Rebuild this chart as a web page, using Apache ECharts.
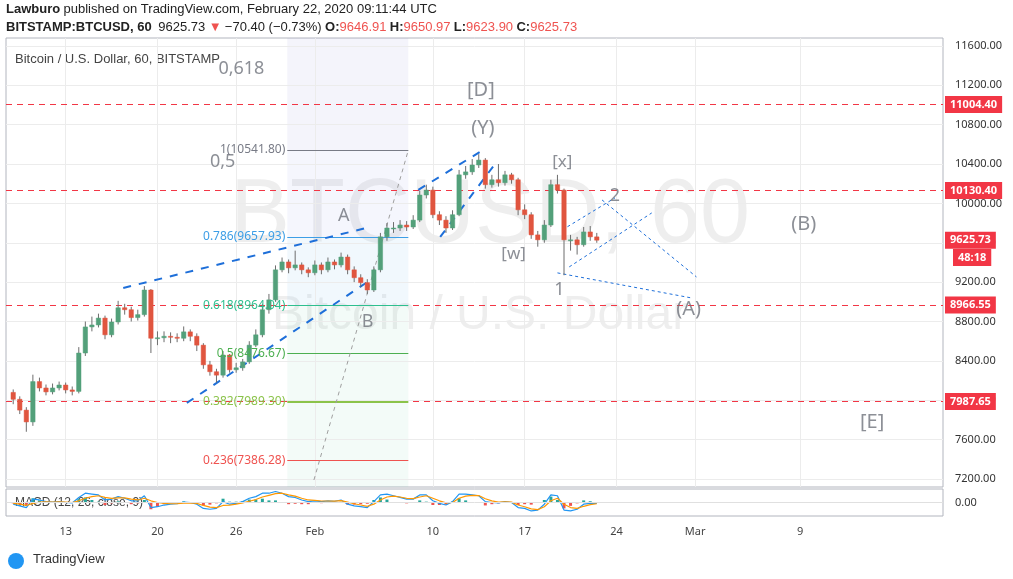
<!DOCTYPE html>
<html><head><meta charset="utf-8">
<script src="https://cdn.jsdelivr.net/npm/echarts@6/dist/echarts.min.js"></script>
<style>html,body{margin:0;padding:0;background:#fff}#c{width:1013px;height:579px}</style>
</head><body><div id="c"></div>
<script>
// time in days since Dec 31 2019 (Jan 13 = 13, Feb 1 = 32, Mar 1 = 61)
const times = [9,9.5,10,10.5,11,11.5,12,12.5,13,13.5,14,14.5,15,15.5,16,16.5,17,17.5,18,18.5,19,19.5,20,20.5,21,21.5,22,22.5,23,23.5,24,24.5,25,25.5,26,26.5,27,27.5,28,28.5,29,29.5,30,30.5,31,31.5,32,32.5,33,33.5,34,34.5,35,35.5,36,36.5,37,37.5,38,38.5,39,39.5,40,40.5,41,41.5,42,42.5,43,43.5,44,44.5,45,45.5,46,46.5,47,47.5,48,48.5,49,49.5,50,50.5,51,51.5,52,52.5,53,53.5];
const opens = [8080,8010,7900,7780,8190,8125,8085,8125,8155,8105,8090,8480,8745,8765,8835,8665,8795,8940,8920,8840,8870,9120,8630,8635,8650,8640,8630,8695,8650,8560,8360,8290,8255,8460,8310,8330,8390,8560,8665,8920,9020,9325,9405,9345,9375,9325,9295,9375,9325,9405,9375,9455,9325,9245,9195,9120,9325,9660,9750,9750,9780,9760,9830,10085,10135,9885,9830,9750,9885,10290,10320,10390,10440,10190,10240,10210,10290,10240,9935,9885,9680,9630,9780,10190,10135,9630,9630,9580,9710,9660];
const closes = [8010,7900,7780,8190,8125,8085,8125,8155,8105,8090,8480,8745,8765,8835,8665,8795,8940,8920,8840,8870,9120,8630,8635,8650,8640,8630,8695,8650,8560,8360,8290,8255,8460,8310,8330,8390,8560,8665,8920,9020,9325,9405,9345,9375,9325,9295,9375,9325,9405,9375,9455,9325,9245,9195,9120,9325,9660,9750,9750,9780,9760,9830,10085,10135,9885,9830,9750,9885,10290,10320,10390,10440,10190,10240,10210,10290,10240,9935,9885,9680,9630,9780,10190,10135,9630,9630,9580,9710,9660,9626];
const highs = [8110,8040,7930,8260,8230,8160,8170,8190,8180,8140,8540,8800,8850,8880,8860,8830,9010,8980,8950,8920,9160,9130,8700,8700,8690,8680,8750,8720,8680,8580,8400,8320,8500,8470,8380,8420,8600,8720,8980,9080,9370,9450,9430,9520,9400,9350,9420,9400,9450,9430,9500,9480,9360,9280,9230,9360,9700,9800,9810,9830,9820,9880,10130,10190,10170,9920,9870,9930,10340,10380,10450,10500,10460,10290,10400,10330,10310,10260,9990,9910,9720,9830,10240,10290,10150,9680,9660,9760,9770,9700];
const lows = [7960,7860,7680,7740,8090,8050,8060,8100,8070,8050,8070,8450,8700,8740,8620,8640,8770,8870,8800,8810,8850,8480,8560,8590,8580,8590,8600,8600,8500,8320,8250,8180,8230,8280,8280,8300,8370,8540,8640,8880,9000,9300,9290,9320,9280,9250,9270,9280,9300,9330,9350,9280,9200,9150,9080,9100,9300,9620,9700,9720,9720,9740,9810,10050,9850,9780,9700,9730,9870,10250,10290,10360,10150,10160,10170,10180,10200,9880,9840,9640,9560,9600,9760,10100,9270,9520,9480,9560,9620,9600];
const macd = [-20,-40,-60,40,30,10,5,10,0,-5,60,110,100,90,30,40,70,50,20,20,80,-60,-50,-30,-20,-15,5,0,-20,-70,-80,-70,10,-20,-10,10,50,70,110,110,130,110,70,60,30,10,20,10,20,15,30,-20,-40,-50,-60,10,90,100,80,60,40,40,90,90,20,-10,-30,10,100,100,90,80,10,0,-5,10,0,-60,-70,-100,-90,-20,90,80,-90,-100,-80,-20,-10,-10];
const signal = [-10,-20,-35,-10,5,8,6,8,4,0,20,50,70,80,60,50,55,55,40,30,50,20,0,-10,-15,-15,-8,-5,-10,-35,-55,-60,-35,-30,-20,-5,15,35,65,85,105,110,90,75,50,30,25,18,18,16,22,5,-15,-30,-45,-20,30,65,75,65,50,45,65,80,50,20,-5,0,50,75,85,82,45,20,5,8,4,-30,-50,-75,-85,-50,20,50,-20,-60,-70,-45,-25,-15];
const dateTicks = [13,20,26,32,41,48,55,61,69];
const dateLabels = ['13','20','26','Feb','10','17','24','Mar','9'];
const priceTicks = [7200,7600,8000,8400,8800,9200,9600,10000,10400,10800,11200,11600];
const redLevels = [11004.40,10130.40,8966.55,7987.65];
const fibLevels = [['1',10541.80,'#787b86'],['0.786',9657.93,'#3d9ee6'],['0.618',8964.04,'#2fbf8f'],['0.5',8476.67,'#4caf50'],['0.382',7989.30,'#8bc34a'],['0.236',7386.28,'#ef5350']];
const fibStart = 29.9, fibEnd = 39.13;
const trendLines = [ // [t1,p1,t2,p2,width,dash]
  [17.39,9141,35.95,9751,2,[8,8]],[22.24,7973,36.25,9223,2,[8,8]],
  [39.89,10137,44.81,10541,2,[8,8]],[41.56,9659,45.8,10411,2,[8,8]],
  [50.87,9731,54.89,10056,1,[3,3]],[51.4,9355,57.69,9903,1,[3,3]],
  [53.9,10035,61.1,9253,1,[3,3]],[50.5,9294,60.7,9040,1,[3,3]]];
const waveLabels = [[44.66,11153,'[D]',20],[44.81,10767,'(Y)',20],[50.87,10421,'[x]',17],[54.89,10076,'2',18],[69.28,9792,'(B)',20],[34.21,9873,'A',18],[47.16,9487,'[w]',17],[50.65,9121,'1',18],[36.03,8796,'B',18],[60.5,8928,'(A)',20],[74.5,7780,'[E]',20],[26.4,11366,'0,618',18],[24.97,10421,'0,5',18]];
const lastPrice = 9625.73;
const countdownLevel = 9450;

const XMIN = 8.45, XMAX = 79.9;
const chart = echarts.init(document.getElementById('c'));
const candleData = times.map((t,i)=>[t,opens[i],closes[i],lows[i],highs[i]]);
const gridLineStyle = {color:'#ececec',width:1,type:'solid'};
const redLabel = txt=>({show:true,position:'end',formatter:txt,color:'#fff',backgroundColor:'#f23645',padding:[3,5],fontSize:11,fontWeight:'bold',distance:2});
const markLinesMain = [];
dateTicks.forEach(v=>markLinesMain.push({xAxis:v,lineStyle:gridLineStyle,label:{show:false}}));
priceTicks.forEach(v=>markLinesMain.push({yAxis:v,lineStyle:gridLineStyle,label:{show:false}}));
redLevels.forEach(v=>markLinesMain.push({yAxis:v,lineStyle:{color:'#f23645',type:[6,5],width:1},label:redLabel(v.toFixed(2))}));
const segs = [];
fibLevels.forEach(f=>segs.push([{coord:[fibStart,f[1]],lineStyle:{color:f[2],width:f[0]==='0.382'?2:1,type:'solid'},label:{show:true,position:'start',formatter:f[0]+'('+f[1].toFixed(2)+')',color:f[2],fontSize:12,distance:2}},{coord:[fibEnd,f[1]]}]));
segs.push([{coord:[31.93,7190],lineStyle:{color:'#9e9e9e',type:[4,4],width:1},label:{show:false}},{coord:[fibEnd,10541.8]}]);
trendLines.forEach(l=>segs.push([{coord:[l[0],l[1]],lineStyle:{color:'#1e6fd9',width:l[4],type:l[5]},label:{show:false}},{coord:[l[2],l[3]]}]));

chart.setOption({
  animation:false,
  textStyle:{fontFamily:'Noto Sans, Open Sans, sans-serif'},
  grid:[{left:6,right:70,top:38,height:449,show:true,borderColor:'#b2b5be',borderWidth:1},
        {left:6,right:70,top:489,height:27,show:true,borderColor:'#b2b5be',borderWidth:1}],
  xAxis:[{type:'value',gridIndex:0,min:XMIN,max:XMAX,axisLabel:{show:false},axisTick:{show:false},axisLine:{show:false},splitLine:{show:false}},
         {type:'value',gridIndex:1,min:XMIN,max:XMAX,axisLine:{show:false},axisTick:{show:false},splitLine:{show:false},
          axisLabel:{customValues:dateTicks,formatter:v=>dateLabels[dateTicks.indexOf(Math.round(v))]||'',color:'#444',fontSize:11,margin:10}}],
  yAxis:[{type:'value',gridIndex:0,position:'right',min:7119,max:11680,axisLine:{show:false},axisTick:{show:false},splitLine:{show:false},
          axisLabel:{customValues:priceTicks,formatter:v=>v.toFixed(2),color:'#333',fontSize:11,margin:12}},
         {type:'value',gridIndex:1,position:'right',min:-160,max:160,axisLine:{show:false},axisTick:{show:false},splitLine:{show:false},
          axisLabel:{customValues:[0],formatter:()=>'0.00',color:'#333',fontSize:11,margin:12}}],
  series:[
    {type:'custom',xAxisIndex:0,yAxisIndex:0,data:candleData,z:5,
     renderItem:(params,api)=>{
       const t=api.value(0),o=api.value(1),c=api.value(2),l=api.value(3),h=api.value(4);
       const po=api.coord([t,o]),pc=api.coord([t,c]),pl=api.coord([t,l]),ph=api.coord([t,h]);
       const col=c>=o?'#53a07a':'#e0553f';
       const top=Math.min(po[1],pc[1]),hgt=Math.max(1,Math.abs(po[1]-pc[1]));
       return {type:'group',children:[
         {type:'line',shape:{x1:ph[0],y1:ph[1],x2:pl[0],y2:pl[1]},style:{stroke:'#6d6d6d',lineWidth:1}},
         {type:'rect',shape:{x:po[0]-2.2,y:top,width:4.4,height:hgt},style:{fill:col,stroke:col,lineWidth:0.5}}]};
     },
     markLine:{silent:true,symbol:['none','none'],data:markLinesMain.concat(segs)},
     markArea:{silent:true,data:[
       [{coord:[fibStart,11680],itemStyle:{color:'rgba(120,110,210,0.08)'}},{coord:[fibEnd,10541.8]}],
       [{coord:[fibStart,10541.8],itemStyle:{color:'rgba(120,130,220,0.07)'}},{coord:[fibEnd,9657.93]}],
       [{coord:[fibStart,9657.93],itemStyle:{color:'rgba(61,158,230,0.07)'}},{coord:[fibEnd,8964.04]}],
       [{coord:[fibStart,8964.04],itemStyle:{color:'rgba(47,191,143,0.06)'}},{coord:[fibEnd,7119]}]]}},
    {type:'scatter',xAxisIndex:0,yAxisIndex:0,symbolSize:0,z:6,silent:true,
     data:waveLabels.map(w=>({value:[w[0],w[1]],label:{show:true,position:'inside',formatter:w[2],fontSize:w[3],color:'#6f737c'}})),
     markLine:{silent:true,symbol:['none','none'],data:[
       {yAxis:lastPrice,lineStyle:{color:'rgba(0,0,0,0)',width:0},label:redLabel(lastPrice.toFixed(2))},
       {yAxis:countdownLevel,lineStyle:{color:'rgba(0,0,0,0)',width:0},label:Object.assign(redLabel('48:18'),{distance:10})}]}},
    {type:'line',xAxisIndex:1,yAxisIndex:1,data:times.map((t,i)=>[t,macd[i]]),showSymbol:false,lineStyle:{color:'#2196f3',width:1.2},z:3},
    {type:'line',xAxisIndex:1,yAxisIndex:1,data:times.map((t,i)=>[t,signal[i]]),showSymbol:false,lineStyle:{color:'#ff9800',width:1.2},z:3},
    {type:'bar',xAxisIndex:1,yAxisIndex:1,data:times.map((t,i)=>[t,macd[i]-signal[i]]),barWidth:3,
     itemStyle:{color:p=>p.value[1]>=0?'#26a69a':'#ef5350'},z:2,
     markLine:{silent:true,symbol:['none','none'],data:[{yAxis:0,lineStyle:{color:'#e0e0e0',type:'solid'},label:{show:false}}]}}
  ],
  graphic:[
    {type:'text',left:230,top:172,z:0,style:{text:'BTCUSD, 60',fontSize:90,fill:'rgba(120,120,120,0.13)',fontFamily:'Liberation Sans'}},
    {type:'text',left:272,top:292,z:0,style:{text:'Bitcoin / U.S. Dollar',fontSize:48,fill:'rgba(120,120,120,0.13)',fontFamily:'Liberation Sans'}},
    {type:'text',left:6,top:3,style:{rich:{b:{fontWeight:'bold',fontSize:13,fill:'#222'},n:{fontSize:13,fill:'#222'}},text:'{b|Lawburo} {n|published on TradingView.com, February 22, 2020 09:11:44 UTC}'}},
    {type:'text',left:6,top:21,style:{rich:{b:{fontWeight:'bold',fontSize:13,fill:'#222'},n:{fontSize:13,fill:'#222'},r:{fontSize:13,fill:'#ef5350'}},text:'{b|BITSTAMP:BTCUSD, 60}  {n|9625.73} {r|▼} {n|−70.40 (−0.73%)} {b|O:}{r|9646.91} {b|H:}{r|9650.97} {b|L:}{r|9623.90} {b|C:}{r|9625.73}'}},
    {type:'text',left:15,top:53,style:{text:'Bitcoin / U.S. Dollar, 60, BITSTAMP',fontSize:13,fill:'#444'}},
    {type:'text',left:15,top:497,style:{text:'MACD (12, 26, close, 9)',fontSize:12,fill:'#444'}},
    {type:'circle',shape:{cx:16,cy:561,r:8},style:{fill:'#2196f3'}},
    {type:'text',left:33,top:553,style:{text:'TradingView',fontSize:13,fill:'#333'}}
  ]
});
</script></body></html>
